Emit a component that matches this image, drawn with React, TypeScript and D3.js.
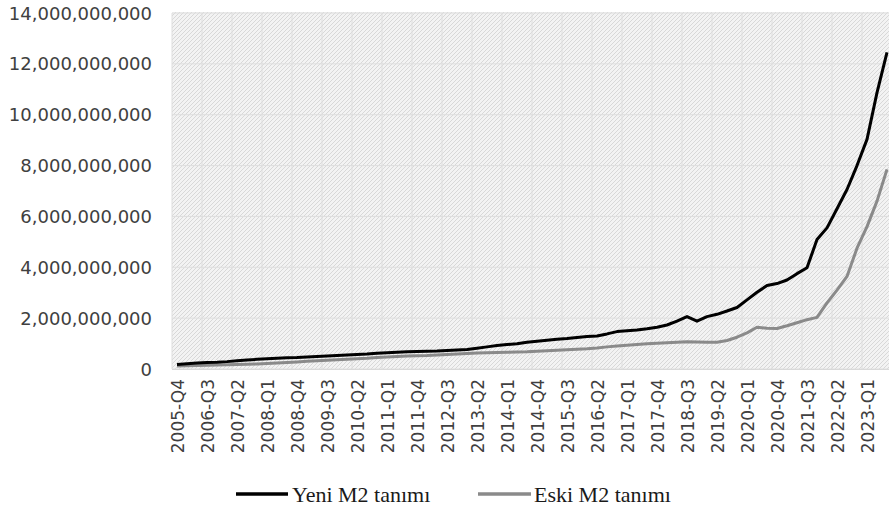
import React from "react";
import * as d3 from "d3";

const quarters: string[] = (() => {
  const out: string[] = [];
  for (let y = 2005; y <= 2023; y++) {
    for (let q = 1; q <= 4; q++) {
      if (y === 2005 && q < 4) continue;
      if (y === 2023 && q > 3) continue;
      out.push(`${y}-Q${q}`);
    }
  }
  return out;
})();

// values in billions
const yeniM2: number[] = [
  0.18, 0.21, 0.24, 0.26, 0.27, 0.29, 0.32, 0.35, 0.38, 0.40,
  0.42, 0.44, 0.45, 0.47, 0.49, 0.51, 0.53, 0.55, 0.57, 0.59,
  0.62, 0.64, 0.66, 0.68, 0.69, 0.70, 0.71, 0.73, 0.75, 0.77,
  0.82, 0.87, 0.92, 0.96, 0.99, 1.05, 1.09, 1.13, 1.17, 1.20,
  1.24, 1.28, 1.30, 1.38, 1.47, 1.50, 1.53, 1.58, 1.64, 1.73,
  1.88, 2.06, 1.88, 2.06, 2.15, 2.28, 2.42, 2.72, 3.02, 3.28,
  3.36, 3.50, 3.75, 3.98, 5.09, 5.55, 6.30, 7.06, 8.00, 9.03,
  10.87, 12.45,
];

const eskiM2: number[] = [
  0.12, 0.13, 0.14, 0.15, 0.16, 0.17, 0.18, 0.19, 0.20, 0.22,
  0.24, 0.26, 0.28, 0.30, 0.32, 0.34, 0.36, 0.38, 0.40, 0.42,
  0.45, 0.47, 0.49, 0.51, 0.52, 0.53, 0.55, 0.57, 0.59, 0.61,
  0.63, 0.64, 0.65, 0.66, 0.67, 0.68, 0.70, 0.72, 0.74, 0.76,
  0.78, 0.80, 0.83, 0.87, 0.90, 0.93, 0.96, 0.99, 1.01, 1.03,
  1.05, 1.07, 1.06, 1.05, 1.05, 1.12, 1.25, 1.42, 1.64, 1.60,
  1.59, 1.70, 1.82, 1.94, 2.03, 2.60, 3.10, 3.64, 4.75, 5.60,
  6.60, 7.85,
];

const yTicks: number[] = [0, 2, 4, 6, 8, 10, 12, 14];
const seriesNames: string[] = ["Yeni M2 tanımı", "Eski M2 tanımı"];

const W = 889;
const H = 510;
const left = 172;
const bandW = 10;
const serif = "'Liberation Serif', 'Times New Roman', Times, serif";
const sans = "'DejaVu Sans', Verdana, sans-serif";

export default function App() {
  const x = d3
    .scaleBand<string>()
    .domain(quarters)
    .range([left, left + bandW * quarters.length])
    .padding(0);
  const y = d3.scaleLinear().domain([0, 14]).range([369, 13]);
  const cx = (c: string) => (x(c) as number) + x.bandwidth() / 2;

  const line = d3
    .line<number>()
    .x((_, i) => cx(quarters[i]))
    .y((v) => y(v));

  const fmt = (v: number) => d3.format(",")(Math.round(v * 1e9));
  const top = y(14);
  const bottom = y(0);
  const plotRight = left + bandW * quarters.length;

  return (
    <svg
      width={W}
      height={H}
      style={{ position: "absolute", left: 0, top: 0, background: "#fff" }}
    >
      <defs>
        <pattern id="hatch" width="4" height="4" patternUnits="userSpaceOnUse">
          <rect width="4" height="4" fill="#f3f3f3" />
          <path d="M0,4 L4,0 M-1,1 L1,-1 M3,5 L5,3" stroke="#d8d8d8" strokeWidth="1" />
        </pattern>
        <clipPath id="clip">
          <rect x={left} y={top - 2} width={W - left} height={bottom - top + 4} />
        </clipPath>
      </defs>
      <rect x={left} y={top - 1} width={plotRight - left} height={bottom - top + 2} fill="url(#hatch)" />
      {yTicks.map((t) => (
        <line key={"h" + t} x1={left} x2={plotRight} y1={y(t)} y2={y(t)} stroke="#dedede" strokeWidth={1} />
      ))}
      {quarters
        .filter((_, i) => i % 3 === 0)
        .map((q) => (
          <line key={"v" + q} x1={x(q)} x2={x(q)} y1={top} y2={bottom} stroke="#dedede" strokeWidth={1} />
        ))}
      <line x1={left} x2={plotRight} y1={bottom + 0.5} y2={bottom + 0.5} stroke="#d9d9d9" strokeWidth={1} />
      {yTicks.map((t) => (
        <text
          key={"yl" + t}
          x={152}
          y={y(t)}
          textAnchor="end"
          dominantBaseline="central"
          fontFamily={sans}
          fontSize={18}
          fill="#404040"
        >
          {fmt(t)}
        </text>
      ))}
      {quarters
        .filter((_, i) => i % 3 === 0)
        .map((q) => (
          <text
            key={"xl" + q}
            transform={`translate(${cx(q) + 1},${379}) rotate(-90)`}
            textAnchor="end"
            dominantBaseline="central"
            fontFamily={sans}
            fontSize={17}
            fill="#404040"
          >
            {q}
          </text>
        ))}
      <g clipPath="url(#clip)">
        <path d={line(eskiM2) || ""} fill="none" stroke="#8a8a8a" strokeWidth={3} strokeLinejoin="round" />
        <path d={line(yeniM2) || ""} fill="none" stroke="#000" strokeWidth={3} strokeLinejoin="round" />
      </g>
      <line x1={236} x2={288} y1={494} y2={494} stroke="#000" strokeWidth={3.5} />
      <text x={292} y={494} dominantBaseline="central" fontFamily={serif} fontSize={22} fill="#1a1a1a">
        {seriesNames[0]}
      </text>
      <line x1={478} x2={531} y1={494} y2={494} stroke="#8a8a8a" strokeWidth={3.5} />
      <text x={534} y={494} dominantBaseline="central" fontFamily={serif} fontSize={22} fill="#1a1a1a">
        {seriesNames[1]}
      </text>
    </svg>
  );
}
